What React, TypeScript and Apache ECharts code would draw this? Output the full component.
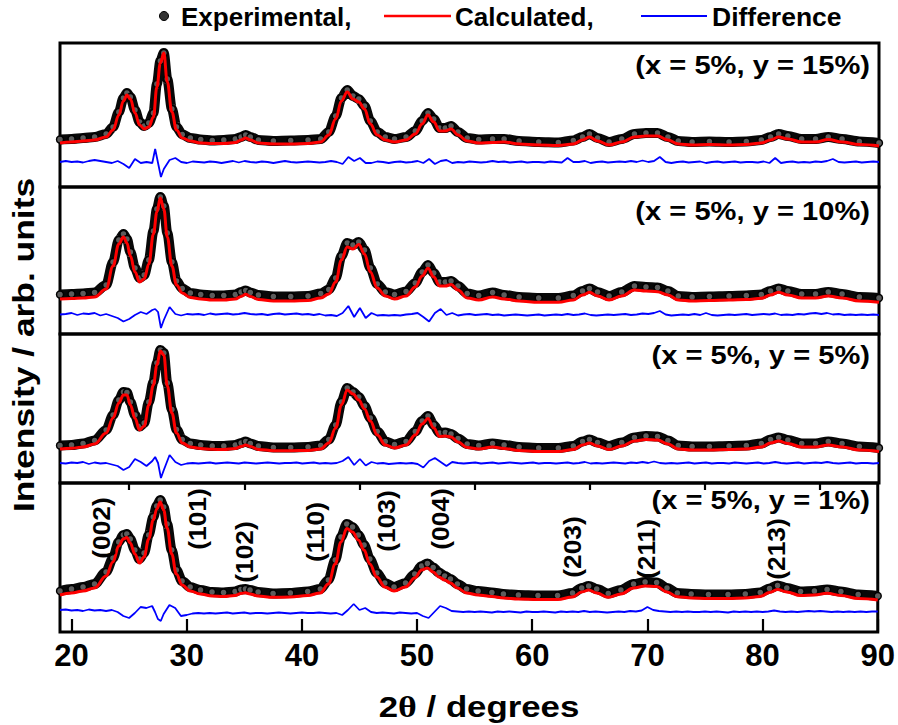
import React, { useEffect, useRef } from "react";
import * as echarts from "echarts";

// ---------- data ----------
const X_MIN = 19;
const X_MAX = 90;
const TICKS_MAJOR = [20, 30, 40, 50, 60, 70, 80, 90];
const TICKS_MINOR = [25, 35, 45, 55, 65, 75, 85];

// 2θ sampling of experimental / calculated curves
const X = [
  19, 20, 21, 22, 23, 23.6, 24.1, 24.5, 24.8, 25.1,
  25.5, 25.9, 26.3, 26.7, 27.1, 27.4, 27.7, 28.0, 28.3, 28.7,
  29.1, 29.6, 30.3, 31.2, 32.2, 33.2, 34.2, 34.7, 35.1, 35.5,
  36.2, 37.5, 39, 40.5, 41.6, 42.3, 42.9, 43.4, 43.9, 44.4,
  44.9, 45.4, 45.9, 46.5, 47.2, 48, 49, 49.8, 50.4, 50.9,
  51.4, 51.9, 52.4, 52.9, 53.5, 54.3, 55.3, 56.5, 57.5, 58.8,
  60.5, 62.2, 63.5, 64.3, 64.9, 65.6, 66.6, 67.7, 68.8, 69.8,
  70.8, 71.7, 72.6, 73.8, 75.3, 77, 78.5, 79.8, 80.6, 81.3,
  82.1, 83.3, 84.5, 85.6, 86.8, 88.3, 90,
];

// (x = 5%, y = 15%)
const P1_CALC = [
  44, 45, 46, 47, 50, 57, 72, 86, 92, 88,
  74, 62, 58, 60, 70, 100, 124, 134, 105, 75,
  57, 49, 46, 44, 43.5, 43.5, 44.5, 47, 49, 47,
  44, 43, 43, 43.5, 45, 52, 68, 86, 95, 88,
  85, 78, 63, 52, 47, 45, 47, 53, 63, 72,
  65, 56, 56, 58, 52, 46, 44, 44.5, 45, 43,
  42, 41.5, 43, 47, 50, 46, 42, 45, 50, 51,
  51, 47, 43, 42, 42.5, 42, 42.5, 44, 47, 50,
  48, 45, 45, 47.5, 45, 42.5, 41,
];
const P1_EXP = [
  47.5, 48, 49, 50, 53, 60, 75, 89, 94, 90,
  77, 65, 61, 64, 74, 103, 126, 134, 108, 78,
  60, 52.5, 49, 47.5, 46.5, 47, 48, 50, 52, 50,
  47, 46, 46.5, 47, 48, 55, 71, 89, 97, 91,
  88, 81, 66, 55, 50, 48, 50, 56, 66, 74,
  68, 59, 59, 61, 55, 49, 47.5, 48, 48, 46,
  45, 44.5, 46.5, 50, 53, 49, 45, 48, 53, 54,
  54, 50, 46, 45, 45.5, 45, 45.5, 47, 50, 53,
  51, 48, 48, 50, 48, 45.5, 44,
];
// (x = 5%, y = 10%)
const P2_CALC = [
  35, 35.5, 36, 37, 45, 68, 90, 97, 91, 78,
  62, 52, 55, 70, 100, 122, 136, 125, 97, 68,
  49, 41, 36.5, 35, 34, 34, 35, 37.5, 39.7, 37.5,
  34.5, 33, 33, 33.5, 36, 40, 52, 74, 87, 85,
  89.5, 80, 62, 46, 38, 35, 38, 47, 58, 65.7,
  57, 48, 48, 49.5, 44, 36, 34, 37, 35, 33,
  31.7, 31.7, 34, 39, 41.7, 38, 34, 38, 44, 43,
  42.3, 39, 34, 33, 33.5, 34, 34.5, 35.7, 39, 41.7,
  39, 36, 36, 38, 36, 33, 31.7,
];
const P2_EXP = [
  39.5, 40, 40.5, 41.5, 49, 72, 94, 100, 95, 82,
  66, 56, 59, 74, 103, 125, 137, 128, 101, 72,
  53, 45.5, 41, 39.5, 38.5, 38.5, 39.5, 42, 43.5, 41.5,
  39, 37.5, 37.5, 38, 40.5, 44.5, 56, 78, 91, 89,
  92, 84, 66, 50, 42, 39.5, 42.5, 51, 62, 69,
  61, 52, 52, 53, 48, 40.5, 38.5, 41.5, 39, 37,
  36, 36, 38.5, 43, 45.5, 42, 38, 42, 48, 47,
  46.5, 43, 38, 37, 37.5, 38, 38.5, 39.5, 43, 45.5,
  43, 40, 40, 42, 40, 37, 36,
];
// (x = 5%, y = 5%)
const P3_CALC = [
  34, 34.7, 36, 39, 50, 65, 80, 88, 88, 78,
  64.7, 53, 57, 78, 98, 118, 132, 128, 97, 70,
  50, 40, 36, 34.5, 33.7, 33.5, 34.5, 36.5, 38, 36.5,
  33.5, 32.3, 32.3, 32.5, 34, 40, 55, 78, 93, 89,
  83, 74, 62, 48, 38, 35, 38, 48, 59, 64.5,
  55, 46.5, 47, 46, 41, 35.5, 34, 36, 34.5, 32.5,
  31.5, 31.5, 33.5, 38, 40, 37, 33.5, 37, 42, 43.5,
  43, 39, 34, 33, 33, 33.5, 34, 36, 40, 42,
  39.5, 36, 36, 38, 36, 33, 31.5,
];
const P3_EXP = [
  37.5, 38, 39.5, 42.5, 53, 68, 83, 91, 90.5, 81,
  68, 56.5, 60, 81, 101, 120, 133, 130, 100, 73.5,
  53.5, 43.5, 39.5, 38, 37, 37, 38, 40, 41.5, 39.5,
  37, 35.5, 35.5, 36, 37.5, 43.5, 58, 81, 95, 91,
  86, 77, 65, 51.5, 41.5, 38.5, 41.5, 51.5, 62, 67,
  58, 50, 50.5, 49, 44.5, 39, 37.5, 39.5, 38, 36,
  35, 35, 37, 41.5, 43.5, 40.5, 37, 40.5, 45.5, 47,
  46.5, 42.5, 37.5, 36.5, 36.5, 37, 37.5, 39.5, 43.5, 45.5,
  43, 39.5, 39.5, 41.5, 39.5, 36.5, 35,
];
// (x = 5%, y = 1%)
const P4_CALC = [
  37, 39, 41, 44, 56, 70, 86, 93, 94.5, 89,
  78, 69, 75, 93, 112, 123, 130, 122, 104, 78,
  58, 47, 41, 38, 36, 35.5, 36.5, 38.5, 39.3, 38,
  36, 34.7, 35, 36.5, 39, 48, 68, 90, 103.5, 100,
  92, 82, 68, 55, 45, 41, 45, 54, 62, 64,
  60, 55, 52, 49, 44, 39, 37, 35.5, 34, 33,
  32.5, 32.5, 35, 40, 42, 39, 34.7, 38, 44, 46,
  45.5, 40, 35.3, 34, 33.5, 33.5, 34, 35.5, 39.5, 42.5,
  40, 36.5, 37, 38.7, 36.5, 33.5, 32,
];
const P4_EXP = [
  41, 43, 45, 48, 60, 74, 90, 97, 98, 93,
  82, 73, 79, 97, 115, 126, 132, 125, 108, 82,
  62, 51, 45, 42, 40, 39.5, 40.5, 42.5, 43, 42,
  40, 38.5, 39, 40.5, 43, 52, 72, 95, 108, 105,
  97, 87, 73, 59, 49, 45, 49, 58, 66, 68.5,
  64.5, 59.5, 56, 53, 48, 43, 41, 39.5, 38, 37,
  36.5, 36.5, 39, 44, 46, 43, 38.5, 42, 48, 50,
  49.5, 44, 39, 38, 37.5, 37.5, 38, 39.5, 43.5, 46.5,
  44, 40.5, 41, 42.5, 40.5, 37.5, 36,
];

// 2θ sampling of the difference curves
const DIFF_X = [
  19, 19.5, 20, 20.5, 21, 21.5, 22, 22.5, 23, 23.5,
  24, 24.5, 25, 25.5, 26, 26.5, 27, 27.25, 27.5, 27.75, 28, 28.5,
  29, 29.5, 30, 30.5, 31, 31.5, 32, 32.5, 33, 33.5,
  34, 34.5, 35, 35.5, 36, 36.5, 37, 37.5, 38, 38.5,
  39, 39.5, 40, 40.5, 41, 41.5, 42, 42.5, 43, 43.5,
  44, 44.5, 45, 45.5, 46, 46.5, 47, 47.5, 48, 48.5,
  49, 49.5, 50, 50.5, 51, 51.5, 52, 52.5, 53, 53.5,
  54, 54.5, 55, 55.5, 56, 56.5, 57, 57.5, 58, 58.5,
  59, 59.5, 60, 60.5, 61, 61.5, 62, 62.5, 63, 63.5,
  64, 64.5, 65, 65.5, 66, 66.5, 67, 67.5, 68, 68.5,
  69, 69.5, 70, 70.5, 71, 71.5, 72, 72.5, 73, 73.5,
  74, 74.5, 75, 75.5, 76, 76.5, 77, 77.5, 78, 78.5,
  79, 79.5, 80, 80.5, 81, 81.5, 82, 82.5, 83, 83.5,
  84, 84.5, 85, 85.5, 86, 86.5, 87, 87.5, 88, 88.5,
  89, 89.5, 90,
];
const P1_DIFF = [
  25, 26, 25, 25.5, 24.5, 26, 27, 26, 25, 24,
  26, 23, 19, 28, 24, 25, 24, 38, 24, 10, 18, 27,
  29, 25, 24, 25.5, 25, 24.5, 25.5, 25, 24, 25,
  26, 24.5, 26, 25, 24.5, 25.5, 25, 24, 25, 26,
  25, 24.5, 25, 25.5, 25, 24.5, 25, 26, 25, 23,
  30, 26, 29, 24, 24, 25.5, 25, 24, 25, 25.5,
  24.5, 25, 26, 24, 28, 23, 26, 27, 24, 25,
  24.5, 25.5, 25, 24.5, 25, 26, 25, 25.5, 24.5, 25,
  25.5, 24.5, 25, 25, 24.5, 25.5, 25, 24.5, 29, 25,
  25, 26, 24, 25, 25.5, 24.5, 25, 25.5, 25, 26,
  25, 26.5, 25, 26, 30, 25, 24, 25, 25.5, 24.5,
  25, 25.5, 24, 25, 25.5, 24.5, 25, 25.5, 24.5, 25,
  25, 24.5, 25.5, 24, 29, 24, 25, 25.5, 24.5, 25,
  24.5, 25.5, 25, 26, 28, 25, 24.5, 25, 25.5, 24.5,
  25, 25.5, 25,
];
const P2_DIFF = [
  19.5, 20, 21, 19, 20.5, 20, 21, 18.5, 20, 18,
  16, 12.5, 15, 19, 22, 20, 24, 25, 22, 6, 14, 27,
  20, 18.5, 20, 19.5, 20, 19, 20.5, 19.5, 20, 20.5,
  19.5, 20, 21, 20, 19.5, 20, 19, 20, 20.5, 19.5,
  20, 20.5, 19.5, 20, 19, 20, 18.5, 19, 18, 21,
  28, 17, 26, 16, 21, 18.5, 19, 18.5, 19, 18.5,
  19.5, 20, 21, 17, 12.5, 21, 25, 19, 21, 18.5,
  19.5, 20, 19, 19.5, 20, 19, 19.5, 18.5, 19, 19.5,
  19, 18.5, 19, 19.5, 18.5, 19, 19.5, 19, 20, 19,
  19.5, 20.5, 19, 18.5, 19, 19.5, 19, 19.5, 20, 19,
  19.5, 20.5, 20, 21, 23, 19.5, 18.5, 19, 19.5, 19,
  20, 19, 21, 19, 18.5, 19, 19.5, 19, 19.5, 20,
  19, 19.5, 20, 19.5, 20.5, 19, 19.5, 19, 20, 19.5,
  20.5, 21, 20, 21, 19.5, 20, 19, 19.5, 19, 19.5,
  19, 19.5, 19,
];
const P3_DIFF = [
  20, 19.5, 20.5, 20, 21, 19, 20.5, 19.5, 20, 18.5,
  17, 13, 16, 24, 21, 17, 22, 26, 20, 5, 13, 28,
  21, 18, 19.5, 20, 19.5, 20, 20.5, 19.5, 20, 20.5,
  20, 19.5, 20.5, 20, 19.5, 20, 20.5, 20, 19.5, 20,
  20, 20.5, 19.5, 20, 20.5, 19.5, 20, 19.5, 20, 22,
  26, 18, 24, 17.5, 21, 19.5, 20, 19, 19.5, 20,
  19.5, 20, 19, 15.5, 22, 25, 21, 17, 21, 20,
  19.5, 20, 20.5, 19.5, 20, 20.5, 19.5, 20, 20.5, 20,
  19.5, 20, 20.5, 19.5, 20, 20, 19.5, 20, 20.5, 19.5,
  20, 21, 19.5, 20, 19.5, 20, 20.5, 20, 19.5, 20.5,
  20, 21, 20, 21.5, 20, 19.5, 20, 19.5, 20, 20.5,
  19.5, 20, 20.5, 19.5, 20, 20, 19.5, 20.5, 20, 19.5,
  20, 20.5, 19.5, 20, 21, 20, 19.5, 20, 20.5, 19.5,
  20, 20.5, 20, 21, 20, 19.5, 20, 20.5, 19.5, 20,
  20, 19.5, 20,
];
const P4_DIFF = [
  22, 22.5, 21.5, 22, 21, 22.5, 21.5, 22, 21, 22,
  20, 16, 14, 19, 25, 24, 26, 20, 13, 11, 18, 27,
  24, 16, 17, 18.5, 19, 18.5, 19, 18.5, 19, 19.5,
  18.5, 19, 19.5, 18.5, 19, 19, 18.5, 19, 19.5, 19,
  18.5, 19, 19.5, 19, 19, 19.5, 19, 18.5, 19, 17,
  22, 28, 22, 24, 20, 19, 19.5, 19, 18.5, 19.5,
  19, 18.5, 19, 16, 14, 20, 26, 24, 21, 20.5,
  20, 20.5, 20, 20.5, 20, 19.5, 20.5, 20, 20.5, 20,
  19.5, 20.5, 20, 20, 20.5, 20, 19.5, 20.5, 20, 20.5,
  20, 21, 20, 20.5, 20, 19.5, 20, 20.5, 20, 21,
  20.5, 21.5, 25, 22, 21, 20.5, 20, 20.5, 20, 20.5,
  20, 20, 20.5, 20, 20.5, 20, 19.5, 20.5, 20, 20.5,
  20, 20.5, 20, 20.5, 21.5, 20.5, 20, 20.5, 20, 20.5,
  21, 20.5, 21, 20.5, 20, 20.5, 20, 20.5, 20, 20.5,
  20, 20.5, 20.5,
];

const PANEL_LABELS = [
  "(x = 5%, y = 15%)",
  "(x = 5%, y = 10%)",
  "(x = 5%, y = 5%)",
  "(x = 5%, y = 1%)",
];
const HKL_TEXT = ["(002)", "(101)", "(102)", "(110)", "(103)", "(004)", "(203)", "(211)", "(213)"];
const HKL_X = [22.6, 30.9, 35.05, 41.15, 47.3, 52.0, 63.5, 69.95, 81.2];
const HKL_Y = [104, 113, 80, 100, 111, 113, 85, 83, 83];

const LEGEND_NAMES = ["Experimental,", "Calculated,", "Difference"];
const Y_TITLE = "Intensity / arb. units";

// ---------- layout ----------
const W = 898;
const H = 725;
const GRID_LEFT = 60;
const GRID_RIGHT = 19;
const PANELS = [
  { top: 43, height: 144 },
  { top: 187, height: 147 },
  { top: 334, height: 149 },
  { top: 483, height: 149 },
];
const FONT = '"Liberation Sans", Arial, Helvetica, sans-serif';

const EXP = [P1_EXP, P2_EXP, P3_EXP, P4_EXP];
const CALC = [P1_CALC, P2_CALC, P3_CALC, P4_CALC];
const DIFF = [P1_DIFF, P2_DIFF, P3_DIFF, P4_DIFF];

function textEl(text: string, x: number, y: number, size: number, opts: any = {}) {
  return {
    type: "text",
    x,
    y,
    rotation: opts.rotation || 0,
    scaleX: opts.scaleX || 1,
    scaleY: opts.scaleY || 1,
    z: 100,
    style: {
      text,
      fill: "#000",
      fontSize: size,
      fontWeight: "bold",
      fontFamily: FONT,
      align: opts.align || "left",
      verticalAlign: "middle",
      rich: opts.rich,
    },
  };
}

function buildOption() {
  const grid = PANELS.map((p) => ({
    left: GRID_LEFT,
    right: GRID_RIGHT,
    top: p.top,
    height: p.height,
    show: true,
    borderColor: "#000",
    borderWidth: 3,
    backgroundColor: "transparent",
    containLabel: false,
  }));

  const xAxis: any[] = PANELS.map((_, i) => ({
    type: "value",
    gridIndex: i,
    min: X_MIN,
    max: X_MAX,
    show: i === 3,
    axisLine: { show: false },
    splitLine: { show: false },
    axisTick: {
      show: true,
      inside: true,
      length: 13,
      lineStyle: { color: "#000", width: 2.2 },
      customValues: TICKS_MAJOR,
    },
    axisLabel: {
      show: true,
      customValues: TICKS_MAJOR,
      fontSize: 31,
      fontWeight: "bold",
      fontFamily: FONT,
      color: "#000",
      margin: 8,
    },
  }));
  xAxis.push({
    type: "value",
    gridIndex: 3,
    min: X_MIN,
    max: X_MAX,
    axisLine: { show: false },
    splitLine: { show: false },
    axisLabel: { show: false },
    axisTick: {
      show: true,
      inside: true,
      length: 7,
      lineStyle: { color: "#000", width: 2.2 },
      customValues: TICKS_MINOR,
    },
  });

  const yAxis = PANELS.map((p, i) => ({
    type: "value",
    gridIndex: i,
    min: 0,
    max: p.height,
    show: false,
    splitLine: { show: false },
  }));

  const series: any[] = [];
  PANELS.forEach((_, i) => {
    series.push({
      type: "line",
      name: "Experimental",
      xAxisIndex: i,
      yAxisIndex: i,
      data: X.map((x, j) => [x, EXP[i][j]]),
      smooth: 0.3,
      smoothMonotone: "x",
      symbol: "circle",
      symbolSize: 7,
      showSymbol: true,
      lineStyle: { color: "#080808", width: 10 },
      itemStyle: { color: "#5c5c5c", borderColor: "#000", borderWidth: 1.4 },
      z: 2,
      silent: true,
    });
    series.push({
      type: "line",
      name: "Calculated",
      xAxisIndex: i,
      yAxisIndex: i,
      data: X.map((x, j) => [x, CALC[i][j]]),
      smooth: 0.4,
      smoothMonotone: "x",
      showSymbol: false,
      lineStyle: { color: "#ff0000", width: 3 },
      z: 3,
      silent: true,
    });
    series.push({
      type: "line",
      name: "Difference",
      xAxisIndex: i,
      yAxisIndex: i,
      data: DIFF_X.map((x, j) => [x, DIFF[i][j]]),
      showSymbol: false,
      lineStyle: { color: "#0000ff", width: 1.8 },
      z: 3,
      silent: true,
    });
  });

  return {
    animation: false,
    backgroundColor: "#ffffff",
    grid,
    xAxis,
    yAxis,
    series,
  };
}

function baseGraphics() {
  const g: any[] = [];
  // legend
  g.push({
    type: "circle",
    shape: { cx: 164, cy: 16, r: 4.5 },
    style: { fill: "#333", stroke: "#000", lineWidth: 1 },
    z: 100,
  });
  g.push(textEl(LEGEND_NAMES[0], 181, 17.5, 25, { scaleX: 1.04 }));
  g.push({
    type: "line",
    shape: { x1: 384, y1: 16, x2: 451, y2: 16 },
    style: { stroke: "#ff0000", lineWidth: 2.5 },
    z: 100,
  });
  g.push(textEl(LEGEND_NAMES[1], 455, 17.5, 25, { scaleX: 1.04 }));
  g.push({
    type: "line",
    shape: { x1: 641, y1: 16, x2: 707, y2: 16 },
    style: { stroke: "#0000ff", lineWidth: 2 },
    z: 100,
  });
  g.push(textEl(LEGEND_NAMES[2], 712, 17.5, 25, { scaleX: 1.06 }));

  // panel labels
  const labelY = [65, 211, 355, 500];
  PANEL_LABELS.forEach((t, i) => {
    g.push(textEl(t, 870, labelY[i], 26, { align: "right", scaleX: 1.12 }));
  });

  // axis titles
  g.push(
    textEl("2{t|θ} / degrees", 479, 707, 29, {
      align: "center",
      scaleX: 1.2,
      rich: {
        t: {
          fontFamily: '"Liberation Serif", "Times New Roman", serif',
          fontWeight: "bold",
          fontSize: 30,
          fill: "#000",
        },
      },
    })
  );
  g.push(textEl(Y_TITLE, 23, 345, 30, { align: "center", rotation: Math.PI / 2, scaleX: 1.18 }));
  return g;
}

export default function App() {
  const ref = useRef<HTMLDivElement>(null);
  useEffect(() => {
    document.body.style.margin = "0";
    if (!ref.current) return;
    const chart = echarts.init(ref.current, null, { renderer: "svg" });
    chart.setOption(buildOption());
    const g = baseGraphics();
    HKL_TEXT.forEach((t, k) => {
      const p = chart.convertToPixel({ xAxisIndex: 3, yAxisIndex: 3 } as any, [HKL_X[k], HKL_Y[k]]) as number[];
      g.push(textEl(t, p[0], p[1], 24, { align: "center", rotation: Math.PI / 2, scaleX: 1.1 }));
    });
    chart.setOption({ graphic: g });
    return () => chart.dispose();
  }, []);
  return (
    <div
      ref={ref}
      style={{ width: W, height: H, position: "absolute", left: 0, top: 0, background: "#fff" }}
    />
  );
}
